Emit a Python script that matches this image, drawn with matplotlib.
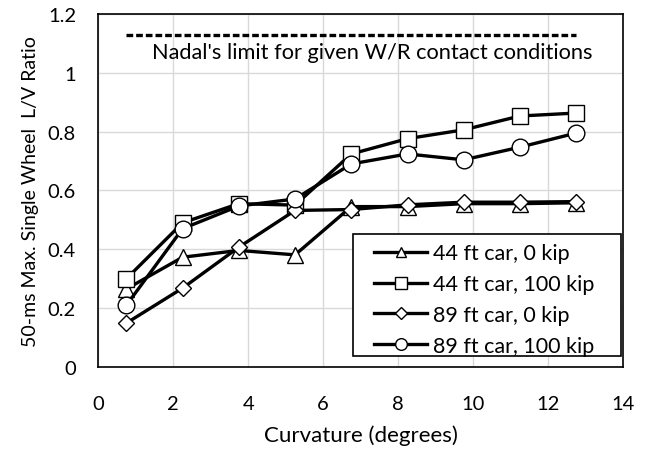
import matplotlib
matplotlib.use('Agg')
import matplotlib.pyplot as plt
from matplotlib.patches import Rectangle
import numpy as np

plt.rcParams['font.family'] = ['Lato', 'DejaVu Sans']

curvature = [0.75, 2.25, 3.75, 5.25, 6.75, 8.25, 9.75, 11.25, 12.75]

car44_0kip = [0.265, 0.373, 0.396, 0.381, 0.545, 0.545, 0.555, 0.555, 0.558]
car44_100kip = [0.30, 0.49, 0.555, 0.55, 0.724, 0.776, 0.806, 0.853, 0.863]
car89_0kip = [0.149, 0.268, 0.407, 0.532, 0.535, 0.551, 0.56, 0.56, 0.562]
car89_100kip = [0.21, 0.47, 0.547, 0.571, 0.69, 0.724, 0.704, 0.747, 0.795]

labels = ['44 ft car, 0 kip', '44 ft car, 100 kip', '89 ft car, 0 kip', '89 ft car, 100 kip']

nadal_x = [0.75, 12.75]
nadal_y = [1.13, 1.13]
nadal_text = "Nadal's limit for given W/R contact conditions"

fig = plt.figure(figsize=(6.51, 4.52), dpi=100)
ax = fig.add_axes([0.151, 0.186, 0.806, 0.781])

style = dict(color='black', linewidth=2.4, markerfacecolor='white', markeredgecolor='black', markeredgewidth=1.0)
ax.plot(curvature, car44_0kip, marker='^', markersize=11, label=labels[0], **style)
ax.plot(curvature, car44_100kip, marker='s', markersize=11.5, label=labels[1], **style)
ax.plot(curvature, car89_0kip, marker='D', markersize=8.5, label=labels[2], **style)
ax.plot(curvature, car89_100kip, marker='o', markersize=12, label=labels[3], **style)

ax.plot(nadal_x, nadal_y, color='black', linewidth=2.4, linestyle=(0, (2.0, 0.9)))
ax.text(7.32, 1.072, nadal_text, ha='center', va='center', fontsize=15.7)

ax.set_xlim(0, 14)
ax.set_ylim(0, 1.2)
ax.set_xticks(np.arange(0, 15, 2))
ax.set_yticks(np.arange(0, 1.21, 0.2))
ax.set_yticklabels(['0', '0.2', '0.4', '0.6', '0.8', '1', '1.2'])
ax.tick_params(axis='both', labelsize=14.5, length=0)
ax.tick_params(axis='y', pad=16)
ax.tick_params(axis='x', pad=20)
ax.grid(True, color='#d9d9d9', linewidth=1)
ax.set_axisbelow(True)
for s in ax.spines.values():
    s.set_color('black')
    s.set_linewidth(1.2)

ax.set_xlabel('Curvature (degrees)', fontsize=16, labelpad=9)
ax.set_ylabel('50-ms Max. Single Wheel  L/V Ratio', fontsize=14, labelpad=6)

# legend box drawn separately so the padding matches the original
ax.add_patch(Rectangle((0.4845, 0.031), 0.5125, 0.346, transform=ax.transAxes,
                       facecolor='white', edgecolor='black', linewidth=1.2, zorder=5))
leg = ax.legend(loc='upper left', bbox_to_anchor=(0.526, 0.35), borderaxespad=0,
                fontsize=15.5, markerscale=0.7, handlelength=2.45, handletextpad=0.3,
                frameon=False, labelspacing=0.5, borderpad=0)
leg.set_zorder(6)

plt.savefig('out.png', dpi=100)
